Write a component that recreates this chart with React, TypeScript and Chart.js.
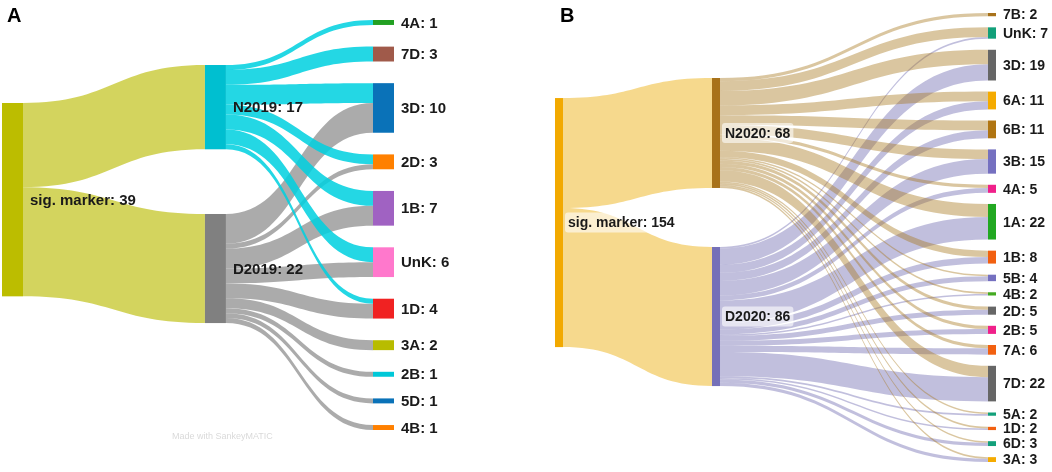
import { useEffect, useRef } from "react";
import { Chart, registerables } from "chart.js";
Chart.register(...registerables);

// ---------------- Panel A data ----------------
const aRootLabel = "sig. marker";
const aGroups = ["N2019", "D2019"];
const aCategories = ["4A", "7D", "3D", "2D", "1B", "UnK", "1D", "3A", "2B", "5D", "4B"];
const aN2019 = [1, 3, 4, 2, 3, 3, 1, 0, 0, 0, 0];
const aD2019 = [0, 0, 6, 1, 4, 3, 3, 2, 1, 1, 1];

// ---------------- Panel B data ----------------
const bRootLabel = "sig. marker";
const bGroups = ["N2020", "D2020"];
const bCategories = ["7B", "UnK", "3D", "6A", "6B", "3B", "4A", "1A", "1B", "5B", "4B", "2D", "2B", "7A", "7D", "5A", "1D", "6D", "3A"];
const bN2020 = [2, 6, 9, 6, 6, 6, 2, 8, 4, 1, 1, 2, 2, 2, 7, 1, 1, 1, 1];
const bD2020 = [0, 1, 10, 5, 5, 9, 3, 14, 4, 3, 1, 3, 3, 4, 15, 1, 1, 2, 2];

// ---------------- Styles / layout ----------------
const styleA = {
  letter: "A",
  letterX: 7,
  rootColor: "#bcbd00",
  rootLink: "rgba(188,190,10,0.66)",
  groupColors: ["#00bfd0", "#808080"],
  groupLinks: ["rgba(0,208,224,0.86)", "rgba(128,128,128,0.66)"],
  categoryColors: ["#22a022", "#a05a4a", "#0a72b8", "#ff8000", "#a062c2", "#ff78cc", "#f02222", "#b8bc00", "#00c8d8", "#0a72b8", "#ff8000"],
  nodeWidth: 21,
  font: 15,
  labelGap: [7, 7, 7],
  labelBox: false,
  stageX: [0, 0.547, 1],
  stageTop: [16.74, 9.08, 0],
  stageGap: [0, 13.05, 4.37],
  padding: { left: 2, right: 147, top: 20, bottom: 42 },
  watermark: "Made with SankeyMATIC",
};

const styleB = {
  letter: "B",
  letterX: 20,
  rootColor: "#f2a900",
  rootLink: "rgba(235,171,2,0.45)",
  groupColors: ["#a8721a", "#7570b8"],
  groupLinks: ["rgba(166,118,29,0.42)", "rgba(117,112,179,0.45)"],
  categoryColors: ["#a8721a", "#12a07a", "#666666", "#f5ab00", "#b07512", "#7570c0", "#f0208a", "#22a822", "#f26010", "#7570c0", "#44aa22", "#666666", "#f0208a", "#f26010", "#666666", "#12a07a", "#f26010", "#12a07a", "#f5ab00"],
  nodeWidth: 8,
  font: 14,
  labelGap: [5, 5, 7],
  labelBox: true,
  stageX: [0, 0.3626, 1],
  stageTop: [52.6, 40.2, 0],
  stageGap: [0, 36.5, 6.87],
  padding: { left: 15, right: 64, top: 13, bottom: 10 },
  watermark: "",
};

const FONT = "'Liberation Sans', Arial, Helvetica, sans-serif";

function buildPanel(root: string, groups: string[], cats: string[], flows: number[][], style: any) {
  const groupVals = flows.map((f) => f.reduce((a, b) => a + b, 0));
  const catVals = cats.map((_, i) => flows.reduce((s, f) => s + f[i], 0));
  const total = groupVals.reduce((a, b) => a + b, 0);
  const stages: any[][] = [
    [{ label: root, value: total, color: style.rootColor }],
    groups.map((g, i) => ({ label: g, value: groupVals[i], color: style.groupColors[i] })),
    cats.map((c, i) => ({ label: c, value: catVals[i], color: style.categoryColors[i] })),
  ];
  let yMax = 0;
  stages.forEach((nodes, s) => {
    let y = style.stageTop[s];
    nodes.forEach((n) => {
      n.stage = s;
      n.y0 = y;
      n.y1 = y + n.value;
      n.out = y;
      n.inn = y;
      y = n.y1 + style.stageGap[s];
      yMax = Math.max(yMax, n.y1);
    });
  });
  const links: any[] = [];
  groups.forEach((_, i) =>
    links.push({ src: stages[0][0], tgt: stages[1][i], value: groupVals[i], color: style.rootLink, z: 0 })
  );
  flows.forEach((f, gi) =>
    f.forEach((v, ci) => {
      if (v > 0)
        links.push({ src: stages[1][gi], tgt: stages[2][ci], value: v, color: style.groupLinks[gi], z: 1 + (groups.length - gi) });
    })
  );
  links.forEach((l) => {
    l.sy0 = l.src.out;
    l.src.out += l.value;
    l.ty0 = l.tgt.inn;
    l.tgt.inn += l.value;
  });
  return { stages, links, yMax };
}

function makePlugin(panel: any, style: any) {
  return {
    id: "sankeyDraw" + style.letter,
    afterDatasetsDraw(chart: any) {
      const ctx: CanvasRenderingContext2D = chart.ctx;
      const xs = chart.scales.x;
      const ys = chart.scales.y;
      const w = style.nodeWidth;
      ctx.save();
      // links
      const sorted = [...panel.links].sort((a, b) => a.z - b.z);
      sorted.forEach((l) => {
        const x0 = xs.getPixelForValue(style.stageX[l.src.stage]) + w;
        const x1 = xs.getPixelForValue(style.stageX[l.tgt.stage]);
        const xm = (x0 + x1) / 2;
        const s0 = ys.getPixelForValue(l.sy0);
        const s1 = ys.getPixelForValue(l.sy0 + l.value);
        const t0 = ys.getPixelForValue(l.ty0);
        const t1 = ys.getPixelForValue(l.ty0 + l.value);
        ctx.beginPath();
        ctx.moveTo(x0, s0);
        ctx.bezierCurveTo(xm, s0, xm, t0, x1, t0);
        ctx.lineTo(x1, t1);
        ctx.bezierCurveTo(xm, t1, xm, s1, x0, s1);
        ctx.closePath();
        ctx.fillStyle = l.color;
        ctx.fill();
      });
      // nodes
      panel.stages.forEach((nodes: any[]) =>
        nodes.forEach((n) => {
          const x = xs.getPixelForValue(style.stageX[n.stage]);
          const y0 = ys.getPixelForValue(n.y0);
          const y1 = ys.getPixelForValue(n.y1);
          ctx.fillStyle = n.color;
          ctx.fillRect(x, y0, w, Math.max(1, y1 - y0));
        })
      );
      // labels
      ctx.font = `bold ${style.font}px ${FONT}`;
      ctx.textBaseline = "middle";
      ctx.textAlign = "left";
      panel.stages.forEach((nodes: any[]) =>
        nodes.forEach((n) => {
          const x = xs.getPixelForValue(style.stageX[n.stage]) + w + style.labelGap[n.stage];
          const yc = (ys.getPixelForValue(n.y0) + ys.getPixelForValue(n.y1)) / 2;
          const text = `${n.label}: ${n.value}`;
          if (style.labelBox && n.stage < 2) {
            const tw = ctx.measureText(text).width;
            ctx.fillStyle = "rgba(255,255,255,0.6)";
            ctx.beginPath();
            (ctx as any).roundRect(x - 3, yc - style.font / 2 - 3, tw + 6, style.font + 6, 3);
            ctx.fill();
          }
          ctx.fillStyle = "#1a1a1a";
          ctx.fillText(text, x, yc + 1);
        })
      );
      // panel letter
      ctx.fillStyle = "#000";
      ctx.textBaseline = "alphabetic";
      ctx.font = `bold 20px ${FONT}`;
      ctx.fillText(style.letter, style.letterX, 22);
      if (style.watermark) {
        ctx.font = `9px ${FONT}`;
        ctx.fillStyle = "rgba(0,0,0,0.16)";
        ctx.textBaseline = "middle";
        ctx.fillText(style.watermark, 172, 437);
      }
      ctx.restore();
    },
  };
}

function SankeyPanel({ panel, style, left, width }: any) {
  const ref = useRef<HTMLCanvasElement | null>(null);
  useEffect(() => {
    if (!ref.current) return;
    const chart = new Chart(ref.current, {
      type: "scatter",
      data: { datasets: [{ data: [] }] },
      options: {
        animation: false,
        responsive: true,
        maintainAspectRatio: false,
        events: [],
        layout: { padding: style.padding },
        plugins: { legend: { display: false }, tooltip: { enabled: false }, title: { display: false } },
        scales: {
          x: { type: "linear", display: false, min: 0, max: 1 },
          y: { type: "linear", display: false, min: 0, max: panel.yMax, reverse: true },
        },
      },
      plugins: [makePlugin(panel, style)],
    });
    return () => chart.destroy();
  }, []);
  return (
    <div style={{ position: "absolute", left, top: 0, width, height: 472 }}>
      <canvas ref={ref} />
    </div>
  );
}

const panelA = buildPanel(aRootLabel, aGroups, aCategories, [aN2019, aD2019], styleA);
const panelB = buildPanel(bRootLabel, bGroups, bCategories, [bN2020, bD2020], styleB);

export default function App() {
  return (
    <div style={{ position: "fixed", left: 0, top: 0, width: 1052, height: 472, background: "#fff" }}>
      <SankeyPanel panel={panelA} style={styleA} left={0} width={520} />
      <SankeyPanel panel={panelB} style={styleB} left={540} width={512} />
    </div>
  );
}
